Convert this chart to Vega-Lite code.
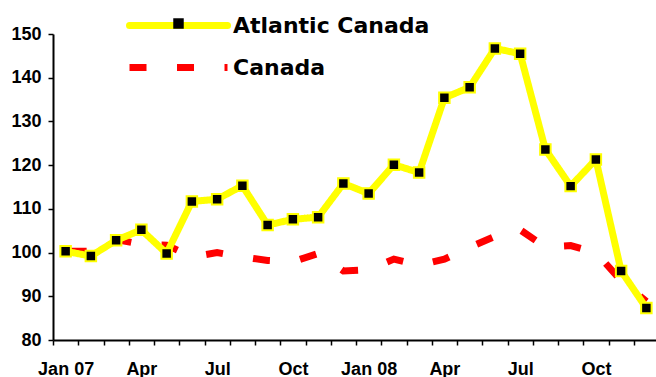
{
  "$schema": "https://vega.github.io/schema/vega-lite/v6.json",
  "width": 603,
  "height": 306,
  "autosize": {"type": "none"},
  "padding": {"left": 53, "top": 34, "right": 0, "bottom": 37},
  "background": "white",
  "config": {
    "view": {"stroke": null},
    "font": "Liberation Sans",
    "axis": {
      "grid": false,
      "title": null,
      "domainColor": "black",
      "domainWidth": 2,
      "tickColor": "black",
      "tickWidth": 1.5,
      "tickSize": 5,
      "labelFont": "Liberation Sans",
      "labelFontWeight": "bold",
      "labelFontSize": 18,
      "labelColor": "black"
    }
  },
  "data": {
    "values": [
      {"month": "2007-01", "series": "Atlantic Canada", "value": 100.3},
      {"month": "2007-02", "series": "Atlantic Canada", "value": 99.2},
      {"month": "2007-03", "series": "Atlantic Canada", "value": 102.8},
      {"month": "2007-04", "series": "Atlantic Canada", "value": 105.2},
      {"month": "2007-05", "series": "Atlantic Canada", "value": 99.8},
      {"month": "2007-06", "series": "Atlantic Canada", "value": 111.7},
      {"month": "2007-07", "series": "Atlantic Canada", "value": 112.2},
      {"month": "2007-08", "series": "Atlantic Canada", "value": 115.3},
      {"month": "2007-09", "series": "Atlantic Canada", "value": 106.3},
      {"month": "2007-10", "series": "Atlantic Canada", "value": 107.6},
      {"month": "2007-11", "series": "Atlantic Canada", "value": 108.1},
      {"month": "2007-12", "series": "Atlantic Canada", "value": 115.8},
      {"month": "2008-01", "series": "Atlantic Canada", "value": 113.5},
      {"month": "2008-02", "series": "Atlantic Canada", "value": 120.1},
      {"month": "2008-03", "series": "Atlantic Canada", "value": 118.3},
      {"month": "2008-04", "series": "Atlantic Canada", "value": 135.4},
      {"month": "2008-05", "series": "Atlantic Canada", "value": 137.8},
      {"month": "2008-06", "series": "Atlantic Canada", "value": 146.7},
      {"month": "2008-07", "series": "Atlantic Canada", "value": 145.5},
      {"month": "2008-08", "series": "Atlantic Canada", "value": 123.6},
      {"month": "2008-09", "series": "Atlantic Canada", "value": 115.2},
      {"month": "2008-10", "series": "Atlantic Canada", "value": 121.3},
      {"month": "2008-11", "series": "Atlantic Canada", "value": 95.8},
      {"month": "2008-12", "series": "Atlantic Canada", "value": 87.3},
      {"month": "2007-01", "series": "Canada", "value": 100.3},
      {"month": "2007-02", "series": "Canada", "value": 100.3},
      {"month": "2007-03", "series": "Canada", "value": 103.0},
      {"month": "2007-04", "series": "Canada", "value": 101.9},
      {"month": "2007-05", "series": "Canada", "value": 101.7},
      {"month": "2007-06", "series": "Canada", "value": 99.0},
      {"month": "2007-07", "series": "Canada", "value": 100.0},
      {"month": "2007-08", "series": "Canada", "value": 99.0},
      {"month": "2007-09", "series": "Canada", "value": 98.2},
      {"month": "2007-10", "series": "Canada", "value": 97.9},
      {"month": "2007-11", "series": "Canada", "value": 99.8},
      {"month": "2007-12", "series": "Canada", "value": 95.8},
      {"month": "2008-01", "series": "Canada", "value": 96.1},
      {"month": "2008-02", "series": "Canada", "value": 98.5},
      {"month": "2008-03", "series": "Canada", "value": 97.1},
      {"month": "2008-04", "series": "Canada", "value": 98.5},
      {"month": "2008-05", "series": "Canada", "value": 101.2},
      {"month": "2008-06", "series": "Canada", "value": 103.7},
      {"month": "2008-07", "series": "Canada", "value": 105.2},
      {"month": "2008-08", "series": "Canada", "value": 101.3},
      {"month": "2008-09", "series": "Canada", "value": 101.6},
      {"month": "2008-10", "series": "Canada", "value": 100.0},
      {"month": "2008-11", "series": "Canada", "value": 93.6},
      {"month": "2008-12", "series": "Canada", "value": 88.8}
    ]
  },
  "encoding": {
    "x": {
      "field": "month",
      "type": "ordinal",
      "scale": {"type": "band", "paddingInner": 0, "paddingOuter": 0, "range": [0, 606]},
      "axis": {
        "tickBand": "extent",
        "labelAngle": 0,
        "labelPadding": 15,
        "labelExpr": "substring(datum.value,5,7)=='01' ? (substring(datum.value,0,4)=='2007' ? 'Jan 07' : 'Jan 08') : substring(datum.value,5,7)=='04' ? 'Apr' : substring(datum.value,5,7)=='07' ? 'Jul' : substring(datum.value,5,7)=='10' ? 'Oct' : ''"
      }
    },
    "y": {
      "field": "value",
      "type": "quantitative",
      "scale": {"domain": [80, 150], "nice": false, "zero": false},
      "axis": {"values": [80, 90, 100, 110, 120, 130, 140, 150], "labelPadding": 7}
    }
  },
  "layer": [
    {
      "transform": [{"filter": "datum.series === 'Canada'"}],
      "mark": {"type": "line", "strokeWidth": 7, "strokeCap": "butt", "strokeJoin": "miter", "strokeDashOffset": 43.5},
      "encoding": {
        "color": {
          "field": "series",
          "type": "nominal",
          "scale": {"domain": ["Atlantic Canada", "Canada"], "range": ["#FFFF00", "#FF0000"]},
          "legend": {
            "orient": "none", "legendX": 112, "legendY": -22, "title": null,
            "symbolType": "M-5,0H5", "symbolSize": 384, "symbolStrokeWidth": 7,
            "labelFont": "DejaVu Sans", "labelFontWeight": "bold", "labelFontSize": 22,
            "labelColor": "black", "labelOffset": 41, "labelLimit": 0, "rowPadding": 13,
            "padding": 0, "symbolOffset": 0,
            "encode": {
              "symbols": {"update": {"strokeCap": {"signal": "datum.value === 'Atlantic Canada' ? 'round' : 'butt'"}}},
              "labels": {"update": {"dy": {"value": 0}}}
            }
          }
        },
        "strokeDash": {
          "field": "series",
          "type": "nominal",
          "scale": {"domain": ["Atlantic Canada", "Canada"], "range": [[1, 0], [17, 30.5]]},
          "legend": {
            "orient": "none", "legendX": 112, "legendY": -22, "title": null,
            "symbolType": "M-5,0H5", "symbolSize": 384, "symbolStrokeWidth": 7,
            "labelFont": "DejaVu Sans", "labelFontWeight": "bold", "labelFontSize": 22,
            "labelColor": "black", "labelOffset": 41, "labelLimit": 0, "rowPadding": 13,
            "padding": 0, "symbolOffset": 0
          }
        }
      }
    },
    {
      "transform": [{"filter": "datum.series === 'Atlantic Canada'"}],
      "mark": {"type": "line", "strokeWidth": 7, "strokeCap": "round", "strokeJoin": "round"},
      "encoding": {
        "color": {"field": "series", "type": "nominal"},
        "strokeDash": {"field": "series", "type": "nominal"}
      }
    },
    {
      "transform": [{"filter": "datum.series === 'Atlantic Canada'"}],
      "mark": {"type": "point", "filled": true, "fill": "black", "stroke": "#FFFF00", "strokeWidth": 2, "size": 110, "opacity": 1},
      "encoding": {
        "shape": {
          "field": "series",
          "type": "nominal",
          "scale": {"domain": ["Atlantic Canada"], "range": ["square"]},
          "legend": {
            "orient": "none", "legendX": 119, "legendY": -17, "title": null,
            "labelExpr": "''", "symbolSize": 110, "symbolStrokeWidth": 2,
            "symbolFillColor": "black", "symbolStrokeColor": "#FFFF00",
            "padding": 0, "symbolOffset": 0
          }
        }
      }
    }
  ]
}
